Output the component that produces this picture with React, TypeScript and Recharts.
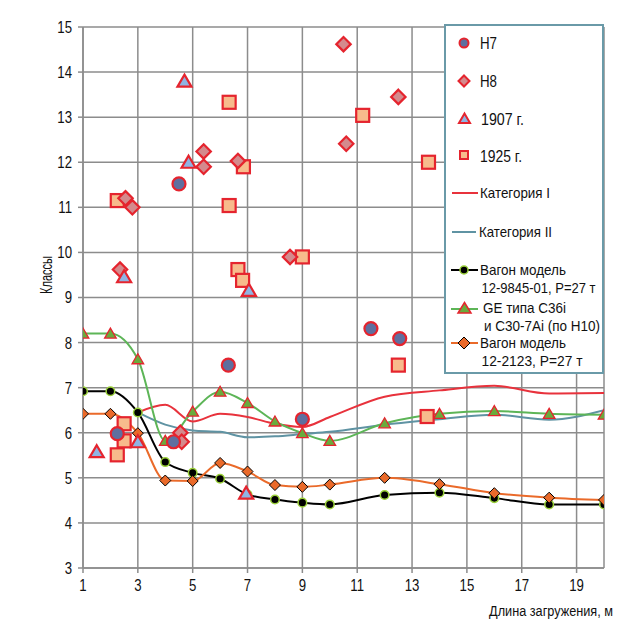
import React from 'react';
import { ComposedChart, Line, Scatter, XAxis, YAxis, CartesianGrid } from 'recharts';

const FONT = "'Liberation Sans', Arial, sans-serif";
const SQ = 0.8;

const xTicks = [1, 3, 5, 7, 9, 11, 13, 15, 17, 19];
const yTicks = [3, 4, 5, 6, 7, 8, 9, 10, 11, 12, 13, 14, 15];

// Lines with markers
const lineX = [1, 2, 3, 4, 5, 6, 7, 8, 9, 10, 12, 14, 16, 18, 20];
const wagon9845 = [6.92, 6.92, 6.45, 5.35, 5.11, 4.98, 4.63, 4.52, 4.45, 4.41, 4.62, 4.67, 4.55, 4.41, 4.41];
const geC36 = [8.2, 8.2, 7.63, 5.82, 6.47, 6.91, 6.66, 6.25, 5.99, 5.82, 6.21, 6.42, 6.48, 6.42, 6.4];
const wagon2123 = [6.42, 6.42, 5.99, 4.94, 4.93, 5.33, 5.14, 4.84, 4.8, 4.85, 5.0, 4.86, 4.66, 4.56, 4.51];

// Category lines (no markers)
const catX = [3, 4, 5, 6, 7, 8, 9, 10, 12, 14, 16, 18, 20];
const cat1 = [6.45, 6.62, 6.25, 6.42, 6.35, 6.2, 6.13, 6.35, 6.8, 6.94, 7.04, 6.87, 6.88];
const cat2 = [6.45, 6.18, 6.05, 6.02, 5.9, 5.92, 5.97, 6.02, 6.18, 6.3, 6.4, 6.29, 6.5];

// Scatter series
const h7X = [2.25, 4.3, 4.5, 6.3, 9.0, 11.5, 12.55];
const h7Y = [5.98, 5.8, 11.52, 7.5, 6.3, 8.31, 8.09];
const h8X = [2.35, 2.55, 2.8, 4.55, 4.6, 5.4, 5.4, 6.65, 8.55, 10.5, 10.6, 12.5];
const h8Y = [9.62, 11.2, 11.0, 6.0, 5.8, 12.24, 11.9, 12.03, 9.9, 14.62, 12.41, 13.45];
const y1907X = [1.5, 2.5, 3.0, 4.7, 4.85, 6.95, 7.05];
const y1907Y = [5.58, 9.46, 5.8, 13.8, 12.0, 4.66, 9.16];
const y1925X = [2.25, 2.25, 2.5, 2.5, 6.33, 6.33, 6.65, 6.82, 6.85, 9.0, 11.2, 12.5, 13.55, 13.6];
const y1925Y = [11.15, 5.51, 6.2, 5.82, 13.33, 11.04, 9.62, 9.38, 11.9, 9.9, 13.04, 7.5, 6.36, 12.0];

const pts = (xs: number[], ys: number[]) => xs.map((x, i) => ({ x, y: ys[i] }));

const RED = '#e5242e';
const C_H7 = '#5f6f9f';
const C_H8 = '#d48a8d';
const C_1907 = '#8fb4e3';
const C_1925 = '#f7bb8c';
const C_CAT1 = '#e8323c';
const C_CAT2 = '#5f93a3';
const C_GREEN = '#5db557';
const C_GREEN_FILL = '#6aab3c';
const C_ORANGE = '#ea6a2a';
const C_LIME = '#9bd13a';
const GRID = '#8c8c8c';

const circleShape = (p: any) => (
  <circle cx={p.cx} cy={p.cy} r={6.5} fill={C_H7} stroke={RED} strokeWidth={2.2} />
);
const diamondShape = (p: any) => {
  const s = 7.2;
  return (
    <polygon
      points={`${p.cx},${p.cy - s} ${p.cx + s},${p.cy} ${p.cx},${p.cy + s} ${p.cx - s},${p.cy}`}
      fill={C_H8}
      stroke={RED}
      strokeWidth={2.2}
    />
  );
};
const triangleShape = (p: any) => (
  <polygon
    points={`${p.cx},${p.cy - 6.5} ${p.cx + 7},${p.cy + 5.5} ${p.cx - 7},${p.cy + 5.5}`}
    fill={C_1907}
    stroke={RED}
    strokeWidth={2.2}
  />
);
const squareShape = (p: any) => (
  <rect x={p.cx - 6.5} y={p.cy - 6.5} width={13} height={13} fill={C_1925} stroke={RED} strokeWidth={2.2} />
);

const blackDot = (p: any) => (
  <circle key={`b${p.index}`} cx={p.cx} cy={p.cy} r={4.3} fill="#000" stroke={C_LIME} strokeWidth={1.5} />
);
const greenDot = (p: any) => (
  <polygon
    key={`g${p.index}`}
    points={`${p.cx},${p.cy - 5.5} ${p.cx + 5.8},${p.cy + 4.5} ${p.cx - 5.8},${p.cy + 4.5}`}
    fill={C_GREEN_FILL}
    stroke={RED}
    strokeWidth={1.3}
  />
);
const orangeDot = (p: any) => {
  const s = 5.5;
  return (
    <polygon
      key={`o${p.index}`}
      points={`${p.cx},${p.cy - s} ${p.cx + s},${p.cy} ${p.cx},${p.cy + s} ${p.cx - s},${p.cy}`}
      fill={C_ORANGE}
      stroke="#000"
      strokeWidth={1}
    />
  );
};

const XTick = (p: any) => (
  <text
    transform={`translate(${p.x},${p.y}) scale(${SQ},1)`}
    textAnchor="middle"
    dy="0.74em"
    fontFamily={FONT}
    fontSize={16.5}
    fill="#111"
  >
    {p.payload.value}
  </text>
);
const YTick = (p: any) => (
  <text
    transform={`translate(${p.x},${p.y}) scale(${SQ},1)`}
    textAnchor="end"
    dy="0.36em"
    fontFamily={FONT}
    fontSize={16.5}
    fill="#111"
  >
    {p.payload.value}
  </text>
);

const T = ({ x, y, w, size, children }: any) => (
  <text
    x={x}
    y={y}
    dominantBaseline="central"
    fontSize={size}
    fontFamily={FONT}
    fill="#111"
    textLength={w}
    lengthAdjust="spacingAndGlyphs"
  >
    {children}
  </text>
);

const Legend = () => (
  <svg width={623} height={630} style={{ position: 'absolute', left: 0, top: 0, pointerEvents: 'none' }}>
    <rect x={445} y={25} width={158} height={348} fill="#fff" stroke="#6a9aa8" strokeWidth={2} />
    <circle cx={464} cy={43} r={4.5} fill={C_H7} stroke={RED} strokeWidth={2} />
    <T x={480} y={43} w={17} size={16.5}>Н7</T>
    <polygon points="464,75.5 469.5,81 464,86.5 458.5,81" fill={C_H8} stroke={RED} strokeWidth={2} />
    <T x={480} y={81} w={17} size={16.5}>Н8</T>
    <polygon points="464.5,113.5 470,123 459,123" fill={C_1907} stroke={RED} strokeWidth={2} />
    <T x={481} y={119} w={43} size={16.5}>1907 г.</T>
    <rect x={460} y={151} width={8} height={8} fill={C_1925} stroke={RED} strokeWidth={2} />
    <T x={480} y={156} w={42} size={16.5}>1925 г.</T>
    <line x1={452} x2={478} y1={193} y2={193} stroke={C_CAT1} strokeWidth={2} />
    <T x={480} y={193} w={70} size={14.5}>Категория I</T>
    <line x1={452} x2={476} y1={232} y2={232} stroke={C_CAT2} strokeWidth={2} />
    <T x={479} y={232} w={73} size={14.5}>Категория II</T>
    <line x1={451} x2={478} y1={270} y2={270} stroke="#000" strokeWidth={2} />
    <circle cx={464} cy={270} r={4} fill="#000" stroke={C_LIME} strokeWidth={1.5} />
    <T x={480} y={270} w={86} size={14.5}>Вагон модель</T>
    <T x={481.5} y={288} w={114} size={14.5}>12-9845-01, P=27 т</T>
    <line x1={451} x2={478} y1={309} y2={309} stroke={C_GREEN} strokeWidth={2} />
    <polygon points="464.5,302.5 471,313 458,313" fill={C_GREEN_FILL} stroke={RED} strokeWidth={1.5} />
    <T x={483} y={308} w={83} size={14.5}>GE типа C36i</T>
    <T x={484} y={326} w={116} size={14.5}>и C30-7Ai (по Н10)</T>
    <line x1={451} x2={478} y1={343} y2={343} stroke={C_ORANGE} strokeWidth={2} />
    <polygon points="464,337 470,343 464,349 458,343" fill={C_ORANGE} stroke="#000" strokeWidth={1} />
    <T x={480} y={343} w={86} size={14.5}>Вагон модель</T>
    <T x={481.5} y={361} w={101} size={14.5}>12-2123, P=27 т</T>
    <g transform="rotate(-90 46 275)">
      <T x={27} y={275} w={38} size={16}>Классы</T>
    </g>
    <text
      transform="translate(613,611) scale(0.82,1)"
      textAnchor="end"
      dominantBaseline="central"
      fontSize={15.5}
      fontFamily={FONT}
      fill="#111"
    >
      Длина загружения, м
    </text>
  </svg>
);

export default function App() {
  return (
    <div style={{ position: 'absolute', left: 0, top: 0, width: 623, height: 630, background: '#fff' }}>
      <ComposedChart width={623} height={630} margin={{ top: 27, right: 19, bottom: 32, left: 43 }}>
        <CartesianGrid stroke={GRID} strokeWidth={1.5} />
        <XAxis
          type="number"
          dataKey="x"
          domain={[1, 20]}
          ticks={xTicks}
          allowDataOverflow
          height={30}
          tick={<XTick />}
          tickSize={5}
          tickMargin={6}
          axisLine={{ stroke: GRID, strokeWidth: 1.5 }}
          tickLine={{ stroke: GRID, strokeWidth: 1.5 }}
        />
        <YAxis
          type="number"
          dataKey="y"
          domain={[3, 15]}
          ticks={yTicks}
          allowDataOverflow
          width={40}
          tick={<YTick />}
          tickSize={5}
          tickMargin={6}
          axisLine={{ stroke: GRID, strokeWidth: 1.5 }}
          tickLine={{ stroke: GRID, strokeWidth: 1.5 }}
        />
        <Line data={pts(catX, cat1)} dataKey="y" type="monotone" stroke={C_CAT1} strokeWidth={2} dot={false} isAnimationActive={false} />
        <Line data={pts(catX, cat2)} dataKey="y" type="monotone" stroke={C_CAT2} strokeWidth={2} dot={false} isAnimationActive={false} />
        <Line data={pts(lineX, geC36)} dataKey="y" type="monotone" stroke={C_GREEN} strokeWidth={2} dot={greenDot} isAnimationActive={false} />
        <Line data={pts(lineX, wagon9845)} dataKey="y" type="monotone" stroke="#000" strokeWidth={2} dot={blackDot} isAnimationActive={false} />
        <Line data={pts(lineX, wagon2123)} dataKey="y" type="monotone" stroke={C_ORANGE} strokeWidth={2} dot={orangeDot} isAnimationActive={false} />
        <Scatter data={pts(y1925X, y1925Y)} dataKey="y" shape={squareShape} isAnimationActive={false} />
        <Scatter data={pts(h8X, h8Y)} dataKey="y" shape={diamondShape} isAnimationActive={false} />
        <Scatter data={pts(h7X, h7Y)} dataKey="y" shape={circleShape} isAnimationActive={false} />
        <Scatter data={pts(y1907X, y1907Y)} dataKey="y" shape={triangleShape} isAnimationActive={false} />
      </ComposedChart>
      <Legend />
    </div>
  );
}
